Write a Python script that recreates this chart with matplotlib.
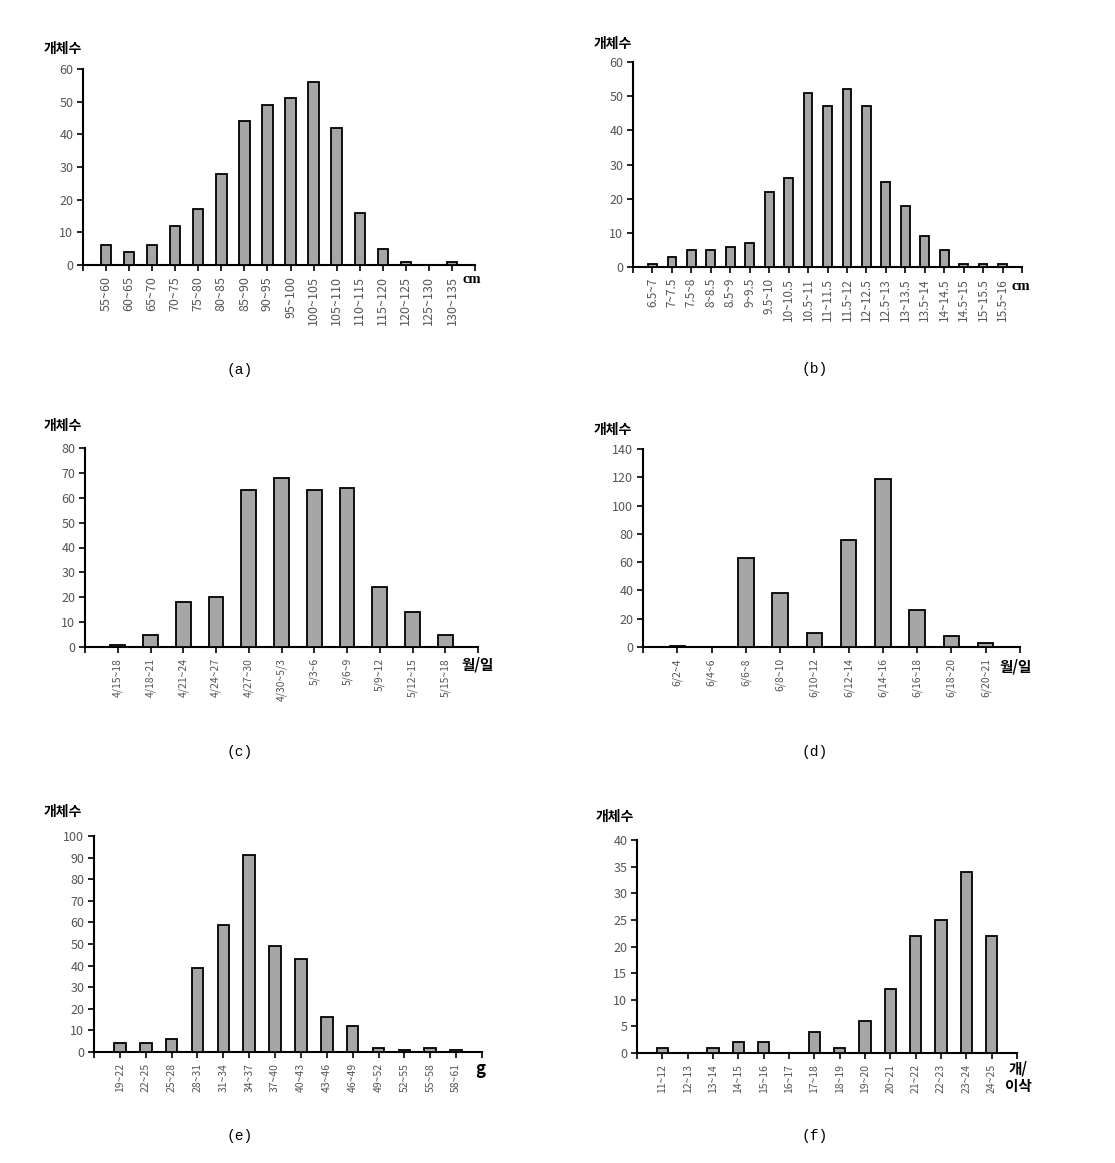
import matplotlib
matplotlib.use('Agg')
import matplotlib.pyplot as plt

plt.rcParams['font.family'] = ['Noto Sans CJK KR', 'DejaVu Sans']

W, H = 1115, 1163

# (a) length, cm
labels_a = ['55~60', '60~65', '65~70', '70~75', '75~80', '80~85', '85~90', '90~95',
            '95~100', '100~105', '105~110', '110~115', '115~120', '120~125', '125~130', '130~135']
counts_a = [6, 4, 6, 12, 17, 28, 44, 49, 51, 56, 42, 16, 5, 1, 0, 1]

# (b) length, cm
labels_b = ['6.5~7', '7~7.5', '7.5~8', '8~8.5', '8.5~9', '9~9.5', '9.5~10', '10~10.5',
            '10.5~11', '11~11.5', '11.5~12', '12~12.5', '12.5~13', '13~13.5', '13.5~14',
            '14~14.5', '14.5~15', '15~15.5', '15.5~16']
counts_b = [1, 3, 5, 5, 6, 7, 22, 26, 51, 47, 52, 47, 25, 18, 9, 5, 1, 1, 1]

# (c) date
labels_c = ['4/15~18', '4/18~21', '4/21~24', '4/24~27', '4/27~30', '4/30~5/3',
            '5/3~6', '5/6~9', '5/9~12', '5/12~15', '5/15~18']
counts_c = [1, 5, 18, 20, 63, 68, 63, 64, 24, 14, 5]

# (d) date
labels_d = ['6/2~4', '6/4~6', '6/6~8', '6/8~10', '6/10~12', '6/12~14',
            '6/14~16', '6/16~18', '6/18~20', '6/20~21']
counts_d = [1, 0, 63, 38, 10, 76, 119, 26, 8, 3]

# (e) weight, g
labels_e = ['19~22', '22~25', '25~28', '28~31', '31~34', '34~37', '37~40',
            '40~43', '43~46', '46~49', '49~52', '52~55', '55~58', '58~61']
counts_e = [4, 4, 6, 39, 59, 91, 49, 43, 16, 12, 2, 1, 2, 1]

# (f) per ear
labels_f = ['11~12', '12~13', '13~14', '14~15', '15~16', '16~17', '17~18',
            '18~19', '19~20', '20~21', '21~22', '22~23', '23~24', '24~25']
counts_f = [1, 0, 1, 2, 2, 0, 4, 1, 6, 12, 22, 25, 34, 22]

serif_bold = ['Liberation Serif', 'DejaVu Serif']

panels = [
    # labels, counts, ymax, ystep, box(x0, x1, ytop, y0), xlabel size, unit, unit_xy, ylab_xy, cap, cap_xy
    (labels_a, counts_a, 60, 10, (83, 475, 69, 265), 9, 'cm', (472, 280), (63, 49), '(a)', (240, 370)),
    (labels_b, counts_b, 60, 10, (633, 1022, 62, 267), 8.5, 'cm', (1021, 286), (613, 44), '(b)', (815, 369)),
    (labels_c, counts_c, 80, 10, (85, 478, 448, 647), 7.5, '월/일', (478, 664), (63, 426), '(c)', (240, 752)),
    (labels_d, counts_d, 140, 20, (643, 1020, 449, 647), 7.5, '월/일', (1016, 667), (613, 430), '(d)', (815, 752)),
    (labels_e, counts_e, 100, 10, (94, 482, 836, 1052), 7.5, 'g', (480, 1069), (63, 812), '(e)', (240, 1136)),
    (labels_f, counts_f, 40, 5, (637, 1017, 840, 1053), 7.5, '개/\n이삭', (1018, 1077), (615, 817), '(f)', (815, 1136)),
]

fig = plt.figure(figsize=(W / 100, H / 100), dpi=100)

for labels, counts, ymax, ystep, box, xls, unit, unit_xy, ylab_xy, cap, cap_xy in panels:
    x0, x1, ytop, y0 = box
    ax = fig.add_axes([x0 / W, 1 - y0 / H, (x1 - x0) / W, (y0 - ytop) / H])
    n = len(counts)
    ax.bar(range(n), counts, width=0.45, color='#a6a6a6', edgecolor='black', linewidth=1.3, zorder=3)
    ax.set_xlim(-1, n)
    ax.set_ylim(0, ymax)
    ax.set_yticks(range(0, ymax + 1, ystep))
    ax.set_xticks(range(-1, n + 1))
    ax.set_xticklabels([''] + labels + [''], rotation=90, fontsize=xls, color='#555555')
    ax.tick_params(axis='y', labelsize=9, labelcolor='#555555', color='black', length=4, width=1.2, pad=3)
    ax.tick_params(axis='x', length=4, width=1.2, color='black', pad=4)
    for s in ['top', 'right']:
        ax.spines[s].set_visible(False)
    for s in ['left', 'bottom']:
        ax.spines[s].set_linewidth(1.5)
        ax.spines[s].set_color('black')
    ax.patch.set_alpha(0)

    if unit == 'cm':
        fig.text(unit_xy[0] / W, 1 - unit_xy[1] / H, unit, ha='center', va='center',
                 fontsize=10.5, fontweight='bold', family=serif_bold)
    elif unit == 'g':
        fig.text(unit_xy[0] / W, 1 - unit_xy[1] / H, unit, ha='center', va='center',
                 fontsize=12, fontweight='black')
    else:
        fig.text(unit_xy[0] / W, 1 - unit_xy[1] / H, unit, ha='center', va='center',
                 fontsize=10.5, fontweight='black', linespacing=1.1)
    fig.text(ylab_xy[0] / W, 1 - ylab_xy[1] / H, '개체수', ha='center', va='center',
             fontsize=10, fontweight='black')
    fig.text(cap_xy[0] / W, 1 - cap_xy[1] / H, cap, ha='center', va='center',
             fontsize=10.5, family=['Liberation Mono', 'DejaVu Sans Mono'])

fig.savefig('out.png', dpi=100)
